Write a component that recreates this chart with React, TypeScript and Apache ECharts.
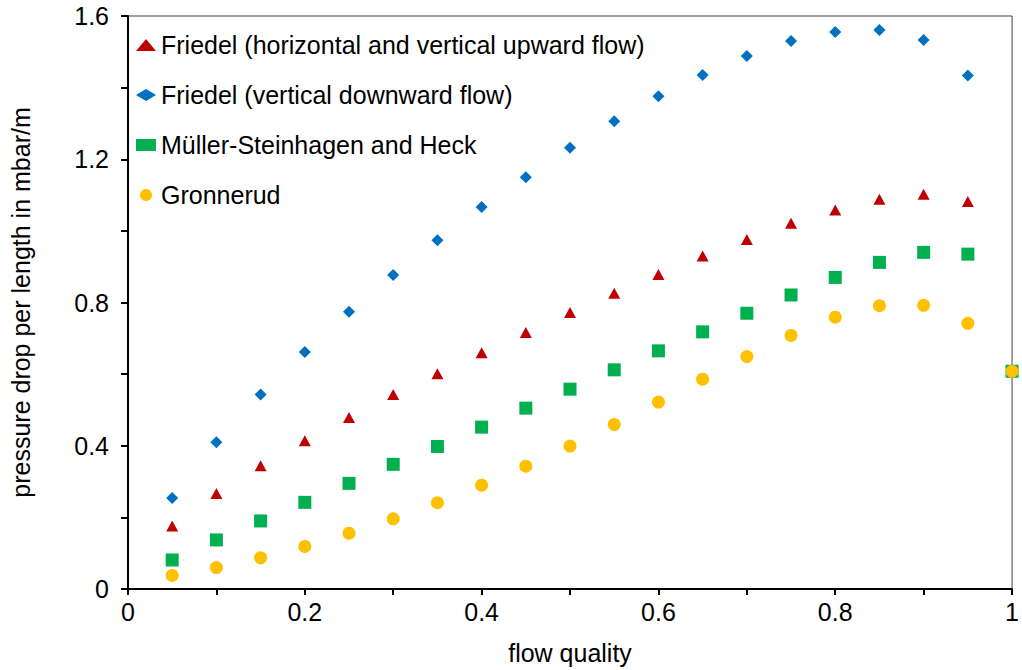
import React, { useEffect, useRef } from "react";
import * as echarts from "echarts";

const flowQuality = [0.05, 0.1, 0.15, 0.2, 0.25, 0.3, 0.35, 0.4, 0.45, 0.5, 0.55, 0.6, 0.65, 0.7, 0.75, 0.8, 0.85, 0.9, 0.95, 1.0];

const friedelUp = [0.176, 0.267, 0.344, 0.414, 0.479, 0.543, 0.601, 0.66, 0.716, 0.772, 0.826, 0.878, 0.93, 0.976, 1.021, 1.058, 1.088, 1.102, 1.082, 0.608];
const friedelDown = [0.254, 0.41, 0.543, 0.662, 0.774, 0.877, 0.974, 1.067, 1.15, 1.232, 1.306, 1.376, 1.435, 1.488, 1.53, 1.555, 1.561, 1.533, 1.434, 0.608];
const mullerSteinhagen = [0.081, 0.137, 0.19, 0.242, 0.295, 0.348, 0.398, 0.452, 0.505, 0.558, 0.612, 0.665, 0.718, 0.77, 0.821, 0.87, 0.912, 0.94, 0.935, 0.608];
const gronnerud = [0.038, 0.06, 0.087, 0.119, 0.156, 0.196, 0.241, 0.29, 0.343, 0.399, 0.459, 0.522, 0.586, 0.649, 0.708, 0.759, 0.791, 0.792, 0.742, 0.608];

const seriesNames = [
  "Friedel (horizontal and vertical upward flow)",
  "Friedel (vertical downward flow)",
  "Müller-Steinhagen and Heck",
  "Gronnerud",
];

const FONT = "Liberation Sans, Arial, sans-serif";
const FS = 25;

function pairs(ys: number[]) {
  return flowQuality.map((x, i) => [x, ys[i]]);
}

export default function App() {
  const ref = useRef<HTMLDivElement>(null);
  useEffect(() => {
    if (!ref.current) return;
    const chart = echarts.init(ref.current, undefined, { renderer: "svg" });
    const defs = [
      { data: friedelUp, color: "#C00000", symbol: "triangle", size: [12, 11] },
      { data: friedelDown, color: "#0070C0", symbol: "diamond", size: [12, 12] },
      { data: mullerSteinhagen, color: "#00B050", symbol: "rect", size: [13, 13] },
      { data: gronnerud, color: "#FFC000", symbol: "circle", size: [13, 13] },
    ];
    chart.setOption({
      animation: false,
      backgroundColor: "#ffffff",
      grid: {
        left: 127,
        right: 6,
        top: 16,
        bottom: 81,
        show: true,
        borderColor: "#404040",
        borderWidth: 1,
        containLabel: false,
      },
      legend: {
        orient: "vertical",
        left: 131,
        top: 25,
        itemWidth: 20,
        itemHeight: 12,
        itemGap: 20,
        textStyle: { fontSize: FS, fontFamily: FONT, color: "#000", lineHeight: 30 },
        data: seriesNames.map((n, i) => ({ name: n, icon: defs[i].symbol })),
      },
      xAxis: {
        type: "value",
        min: 0,
        max: 1,
        interval: 0.1,
        name: "flow quality",
        nameLocation: "middle",
        nameGap: 51,
        nameTextStyle: { fontSize: FS, fontFamily: FONT, color: "#000" },
        axisLine: { show: true, lineStyle: { color: "#000", width: 2 } },
        axisTick: { show: true, length: 6, lineStyle: { color: "#000", width: 2 } },
        axisLabel: {
          fontSize: FS,
          fontFamily: FONT,
          color: "#000",
          margin: 10,
          formatter: (v: number) => {
            const t = Math.round(v * 10);
            return t % 2 === 0 ? String(t / 10) : "";
          },
        },
        splitLine: { show: false },
      },
      yAxis: {
        type: "value",
        min: 0,
        max: 1.6,
        interval: 0.2,
        name: "pressure drop per length in mbar/m",
        nameLocation: "middle",
        nameGap: 95,
        nameTextStyle: { fontSize: FS, fontFamily: FONT, color: "#000" },
        axisLine: { show: true, lineStyle: { color: "#000", width: 2 } },
        axisTick: { show: true, length: 7, lineStyle: { color: "#000", width: 2 } },
        axisLabel: {
          fontSize: FS,
          fontFamily: FONT,
          color: "#000",
          margin: 19,
          formatter: (v: number) => {
            const t = Math.round(v * 10);
            return t % 4 === 0 ? String(t / 10) : "";
          },
        },
        splitLine: { show: false },
      },
      series: defs.map((d, i) => ({
        name: seriesNames[i],
        type: "scatter",
        symbol: d.symbol,
        symbolSize: d.size,
        clip: false,
        itemStyle: { color: d.color, opacity: 1 },
        data: pairs(d.data),
        z: 2 + i,
      })),
    });
    return () => chart.dispose();
  }, []);
  return (
    <div
      ref={ref}
      style={{ position: "fixed", left: 0, top: 0, width: 1022, height: 670, background: "#fff" }}
    />
  );
}
